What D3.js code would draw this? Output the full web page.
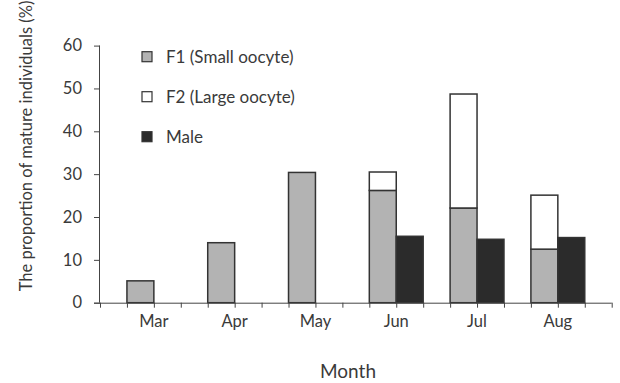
<!DOCTYPE html>
<html><head><meta charset="utf-8">
<script src="https://cdn.jsdelivr.net/npm/d3@7"></script>
<style>body{margin:0;background:#fff}svg{display:block}text{font-family:Lato,"Open Sans",sans-serif;fill:#3a3a3a;font-weight:400}</style>
</head><body><svg width="620" height="383"></svg>
<script>
const months = ["Mar","Apr","May","Jun","Jul","Aug"];
const f1 = [5.1, 14.0, 30.4, 26.2, 22.1, 12.5];
const f2 = [0, 0, 0, 4.3, 26.6, 12.6];
const male = [0, 0, 0, 15.5, 14.8, 15.2];
const yTicks = [0,10,20,30,40,50,60];
const legendItems = [
  {label:"F1 (Small oocyte)", fill:"#b3b3b3"},
  {label:"F2 (Large oocyte)", fill:"#ffffff"},
  {label:"Male", fill:"#2b2b2b"}
];
const svg = d3.select("svg");
const nSlots = months.length*3 + 1;
const x = d3.scaleLinear().domain([0, nSlots]).range([100, 611.7]);
const y = d3.scaleLinear().domain([0, 60]).range([302.7, 45.6]);
const stroke = "#333";

// bars
const g = svg.append("g");
months.forEach((m,i)=>{
  const s = 3*i+1;
  if (f1[i] > 0) g.append("rect").attr("x", x(s)).attr("width", x(s+1)-x(s))
     .attr("y", y(f1[i])).attr("height", y(0)-y(f1[i])).attr("fill", legendItems[0].fill)
     .attr("stroke", stroke).attr("stroke-width", 1.5);
  if (f2[i] > 0) g.append("rect").attr("x", x(s)).attr("width", x(s+1)-x(s))
     .attr("y", y(f1[i]+f2[i])).attr("height", y(f1[i])-y(f1[i]+f2[i])).attr("fill", legendItems[1].fill)
     .attr("stroke", stroke).attr("stroke-width", 1.5);
  if (male[i] > 0) g.append("rect").attr("x", x(s+1)).attr("width", x(s+2)-x(s+1))
     .attr("y", y(male[i])).attr("height", y(0)-y(male[i])).attr("fill", legendItems[2].fill)
     .attr("stroke", stroke).attr("stroke-width", 1.5);
});

// y axis
const yAxis = svg.append("g").attr("transform", `translate(${x(0)},0)`)
  .call(d3.axisLeft(y).tickValues(yTicks).tickSize(6).tickPadding(12));
yAxis.selectAll("text").style("font-size","16.5px").attr("fill","#3a3a3a");
yAxis.selectAll("line,path").attr("stroke","#444");
yAxis.select(".domain").attr("d", `M-0.5,${y(60)}V${y(0)}`);

// x axis
const xAxis = svg.append("g").attr("transform", `translate(0,${y(0)})`)
  .call(d3.axisBottom(x).tickValues(d3.range(0, nSlots+1)).tickSize(5).tickFormat(""));
xAxis.selectAll("line,path").attr("stroke","#444");
xAxis.select(".domain").attr("d", `M${x(0)-6},0.5H${x(nSlots)}`);
svg.append("g").selectAll("text").data(months).join("text")
  .attr("x", (d,i)=>x(3*i+2)).attr("y", 327).attr("text-anchor","middle")
  .style("font-size","16.5px").text(d=>d);

// titles
svg.append("text").attr("x", 348).attr("y", 378).attr("text-anchor","middle")
  .style("font-size","19px").text("Month");
svg.append("text").attr("transform","translate(32,146) rotate(-90)").attr("text-anchor","middle")
  .style("font-size","16.5px").text("The proportion of mature individuals (%)");

// legend
const lg = svg.append("g");
legendItems.forEach((d,i)=>{
  const cy = 56.7 + i*40;
  lg.append("rect").attr("x",142).attr("y",cy-5).attr("width",10).attr("height",10)
    .attr("fill",d.fill).attr("stroke",stroke).attr("stroke-width",1.2);
  lg.append("text").attr("x",166).attr("y",cy+6).style("font-size","17px").text(d.label);
});
</script></body></html>
